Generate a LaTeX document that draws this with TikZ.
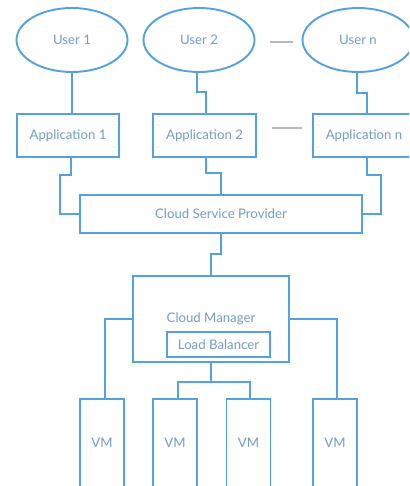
\documentclass[tikz,border=0pt]{standalone}
\usepackage{fontspec}
\setmainfont{Lato}
\usetikzlibrary{shapes.geometric}
\definecolor{ln}{RGB}{85,160,222}
\definecolor{tx}{RGB}{115,155,198}
\definecolor{dg}{RGB}{185,185,185}
\begin{document}
\begin{tikzpicture}[x=1pt,y=-1pt,
  lbl/.style={text=tx,font=\fontsize{13.2}{15}\selectfont},
  box/.style={draw=ln,line width=1.9pt,rectangle,inner sep=0pt,lbl},
  usr/.style={draw=ln,line width=1.9pt,ellipse,inner sep=0pt,minimum width=111pt,minimum height=64pt,lbl},
  wire/.style={draw=ln,line width=1.9pt},
  gap/.style={draw=dg,line width=2pt}]
\useasboundingbox (0,0) rectangle (409,486);
\clip (0,0) rectangle (409,486);
% users
\node[usr] (u1) at (72,40) {User 1};
\node[usr] (u2) at (199,40) {User 2};
\node[usr] (un) at (358,40) {User n};
% applications
\node[box,minimum width=102pt,minimum height=43pt] (a1) at (68,135.5) {Application 1};
\node[box,minimum width=103pt,minimum height=43pt] (a2) at (204.5,135.5) {Application 2};
\node[box,minimum width=102pt,minimum height=43pt] (an) at (364,135.5) {Application n};
% provider
\node[box,minimum width=282pt,minimum height=38pt] (csp) at (221,214) {Cloud Service Provider};
% manager
\node[box,minimum width=156pt,minimum height=86pt] (cm) at (211,319) {Cloud Manager};
\node[box,minimum width=103pt,minimum height=25pt] (lb) at (218.5,344.5) {Load Balancer};
% VMs
\node[box,minimum width=44pt,minimum height=88pt] (vm1) at (102,443) {VM};
\node[box,minimum width=44pt,minimum height=88pt] (vm2) at (175,443) {VM};
\node[box,minimum width=44pt,minimum height=88pt] (vm3) at (248.5,443) {VM};
\node[box,minimum width=44pt,minimum height=88pt] (vm4) at (335,443) {VM};
% ellipsis dashes
\draw[gap] ([xshift=15pt,yshift=-2pt]u2.east) -- ([xshift=-9pt,yshift=-2pt]un.west);
\draw[gap] ([xshift=15pt,yshift=7.5pt]a2.east) -- ([xshift=-10pt,yshift=7.5pt]an.west);
% connectors users -> apps
\draw[wire] (u1.south) -- (u1.south |- a1.north);
\draw[wire] ([xshift=-2pt]u2.south) -- ++(0,19) -| ([xshift=1.5pt]a2.north);
\draw[wire] ([xshift=-1pt]un.south) -- ++(0,20) -| ([xshift=3pt]an.north);
% apps -> provider
\draw[wire] ([xshift=3pt]a1.south) -- ++(0,17) -| ([xshift=-19pt]csp.west) -- (csp.west);
\draw[wire] ([xshift=1.5pt]a2.south) -- ++(0,15) -| (csp.north);
\draw[wire] ([xshift=3pt]an.south) -- ++(0,17) -| ([xshift=18pt]csp.east) -- (csp.east);
% provider -> manager
\draw[wire] (csp.south) -- ++(0,20) -| (cm.north);
% manager -> VMs
\draw[wire] (cm.west) -| ([xshift=3pt]vm1.north);
\draw[wire] (cm.east) -| ([xshift=2pt]vm4.north);
\draw[wire] (cm.south) -- ++(0,19) coordinate (j);
\draw[wire] (j) -| ([xshift=3pt]vm2.north);
\draw[wire] (j) -| ([xshift=1.5pt]vm3.north);
\end{tikzpicture}
\end{document}
